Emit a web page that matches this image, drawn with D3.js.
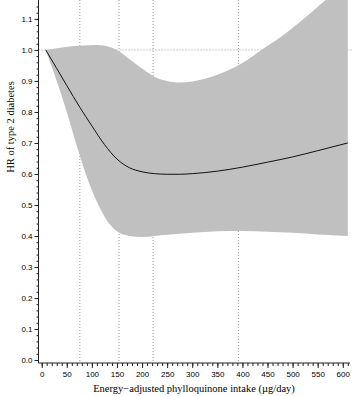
<!DOCTYPE html>
<html lang="en">
<head>
    <meta charset="utf-8">
    <script src="https://cdn.jsdelivr.net/npm/d3@7"></script>
    <style>
        body { margin: 0; background: #fff; }
        .tick text { font-family: "Liberation Sans", Arial, sans-serif; font-size: 8px; fill: #000; }
        .ttl { font-family: "Liberation Serif", "Times New Roman", serif; font-size: 10.5px; fill: #000; }
    </style>
</head>
<body>
<script>
    // intake (ug/day) and spline HR with 95% CI
    let intake = [8, 30, 50, 76, 100, 125, 150, 175, 200, 225, 250, 275, 300, 350, 400, 450, 500, 550, 610];
    let hr     = [1.0, 0.94, 0.885, 0.815, 0.755, 0.695, 0.648, 0.62, 0.607, 0.601, 0.599, 0.599, 0.601, 0.609, 0.622, 0.638, 0.655, 0.675, 0.70];

    let upperX = [8, 40, 80, 110, 130, 150, 175, 200, 225, 250, 275, 300, 325, 350, 375, 400, 438, 475, 512, 540, 565, 610];
    let upper  = [1.0, 1.008, 1.014, 1.016, 1.012, 1.0, 0.97, 0.94, 0.913, 0.9, 0.895, 0.898, 0.907, 0.92, 0.937, 0.958, 1.0, 1.04, 1.087, 1.125, 1.16, 1.225];

    let lowerX = [8, 30, 50, 70, 90, 110, 130, 150, 175, 200, 250, 300, 350, 400, 450, 500, 550, 610];
    let lower  = [1.0, 0.9, 0.8, 0.69, 0.59, 0.51, 0.45, 0.415, 0.4, 0.397, 0.404, 0.41, 0.415, 0.416, 0.414, 0.41, 0.405, 0.40];

    let refLinesX = [76, 154, 222, 392];
    let xTicks = d3.range(0, 601, 50);
    let yTicks = d3.range(0, 12).map(d => d / 10);

    let w = 363, h = 396;

    let svg = d3.select("body").append("svg")
        .attr("width", w)
        .attr("height", h);

    let x = d3.scaleLinear().domain([0, 612]).range([41.7, 348.8]);
    let y = d3.scaleLinear().domain([0, 1.161]).range([360, 0]);

    let axisY0 = 363;   // x axis line
    let axisX0 = 38.5;  // y axis line

    // dotted reference lines (behind the band)
    svg.selectAll("line.vref")
        .data(refLinesX)
        .join("line")
        .attr("class", "vref")
        .attr("x1", d => x(d)).attr("x2", d => x(d))
        .attr("y1", 0).attr("y2", axisY0)
        .attr("stroke", "#999")
        .attr("stroke-width", 1)
        .attr("stroke-dasharray", "1,2");

    svg.append("line")
        .attr("x1", axisX0).attr("x2", 352)
        .attr("y1", y(1)).attr("y2", y(1))
        .attr("stroke", "#999")
        .attr("stroke-width", 1)
        .attr("stroke-dasharray", "1,2");

    // confidence band: upper edge forward, lower edge back
    let edge = d3.line().x(d => x(d[0])).y(d => y(d[1])).curve(d3.curveMonotoneX);
    let upPath = edge(upperX.map((d, i) => [d, upper[i]]));
    let loPath = edge(lowerX.map((d, i) => [d, lower[i]]).reverse());

    svg.append("clipPath").attr("id", "plotclip")
        .append("rect").attr("x", 0).attr("y", 0).attr("width", w).attr("height", axisY0);

    svg.append("path")
        .attr("d", upPath + "L" + loPath.slice(1) + "Z")
        .attr("fill", "#c0c0c0")
        .attr("clip-path", "url(#plotclip)");

    // HR curve
    svg.append("path")
        .datum(intake.map((d, i) => [d, hr[i]]))
        .attr("d", edge)
        .attr("fill", "none")
        .attr("stroke", "#111")
        .attr("stroke-width", 1);

    // x axis
    let gx = svg.append("g").attr("transform", "translate(0," + axisY0 + ")");
    gx.append("g")
        .call(d3.axisBottom(x).tickValues(d3.range(0, 611, 10)).tickSize(3).tickFormat(""))
        .call(g => g.select(".domain").remove());
    gx.append("g")
        .call(d3.axisBottom(x).tickValues(xTicks).tickSize(5).tickPadding(3))
        .call(g => g.select(".domain").remove());
    gx.append("line")
        .attr("x1", axisX0).attr("x2", 350);
    gx.selectAll("line").attr("stroke", "#222");

    // y axis
    let gy = svg.append("g").attr("transform", "translate(" + axisX0 + ",0)");
    gy.append("g")
        .call(d3.axisLeft(y).tickValues(d3.range(0, 58).map(d => d * 0.02)).tickSize(2).tickFormat(""))
        .call(g => g.select(".domain").remove());
    gy.append("g")
        .call(d3.axisLeft(y).tickValues(yTicks).tickSize(4).tickPadding(2).tickFormat(d3.format(".1f")))
        .call(g => g.select(".domain").remove());
    gy.append("line")
        .attr("y1", 0).attr("y2", axisY0);
    gy.selectAll("line").attr("stroke", "#222");

    // titles
    svg.append("text")
        .attr("class", "ttl")
        .attr("x", 194)
        .attr("y", 392)
        .attr("text-anchor", "middle")
        .text("Energy\u2212adjusted phylloquinone intake (\u00b5g/day)");

    svg.append("text")
        .attr("class", "ttl")
        .attr("transform", "translate(14,127) rotate(-90)")
        .attr("text-anchor", "middle")
        .text("HR of type 2 diabetes");
</script>
</body>
</html>
